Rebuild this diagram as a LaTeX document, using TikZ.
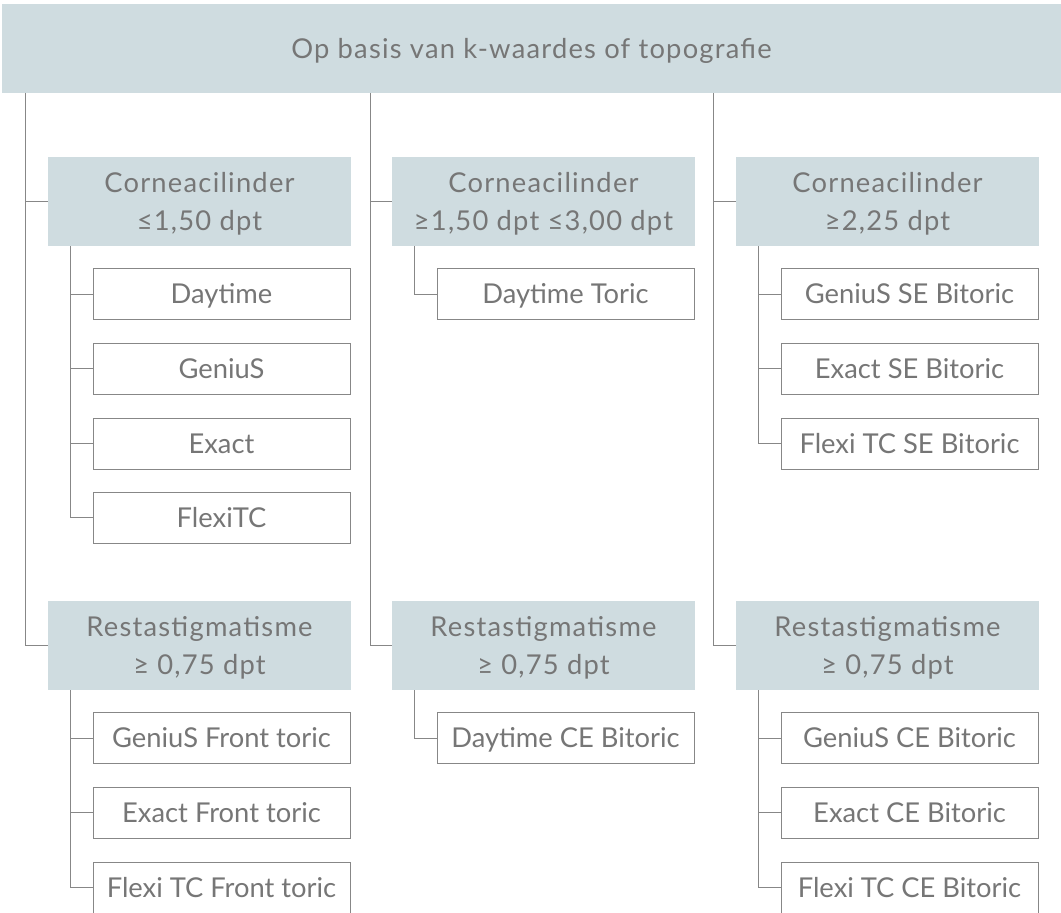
\documentclass[tikz,border=0pt]{standalone}
\usepackage{fontspec}
\setmainfont{Lato}
\usepackage{tikz}
\usetikzlibrary{positioning,calc}

\definecolor{boxgray}{RGB}{207,220,224}
\definecolor{txtgray}{RGB}{118,118,118}
\definecolor{linegray}{RGB}{135,135,135}
\newcommand{\nodp}[1]{\raisebox{0pt}[\height][0pt]{#1}}

\tikzset{
  headbox/.style={fill=boxgray,draw=none,inner sep=0pt,minimum width=794.25pt,minimum height=66.75pt,
    font=\fontsize{20.5}{28.5}\selectfont\addfontfeature{LetterSpace=4.5},text height=14.7pt,text depth=0pt},
  critbox/.style={fill=boxgray,draw=none,inner sep=0pt,align=center,minimum width=227.25pt,minimum height=66.75pt,
    font=\fontsize{20.5}{28.5}\selectfont\addfontfeature{LetterSpace=4.5}},
  lensbox/.style={fill=white,draw=linegray,line width=.6pt,inner sep=0pt,minimum width=192.75pt,minimum height=38.25pt,
    text height=14.7pt,text depth=0pt},
  tree/.style={draw=linegray,line width=.6pt}
}

\begin{document}
\begin{tikzpicture}[x=.75pt,y=-.75pt,font=\fontsize{20.5}{28.5}\selectfont,text=txtgray]
\useasboundingbox (0,0) rectangle (1061,913);
\node[headbox] (head) at (531.5,48.5) {Op basis van k-waardes of topografie};
% trunks
\coordinate (t1) at (25,93);
\coordinate (t2) at (370,93);
\coordinate (t3) at (713,93);
% criteria
\node[critbox] (c1) at (199.5,201.5) {Corneacilinder\\\nodp{≤1,50 dpt}};
\node[critbox] (c2) at (543.5,201.5) {Corneacilinder\\\nodp{≥1,50 dpt ≤3,00 dpt}};
\node[critbox] (c3) at (887.5,201.5) {Corneacilinder\\\nodp{≥2,25 dpt}};
\node[critbox] (r1) at (199.5,645.5) {Restastigmatisme\\\nodp{≥ 0,75 dpt}};
\node[critbox] (r2) at (543.5,645.5) {Restastigmatisme\\\nodp{≥ 0,75 dpt}};
\node[critbox] (r3) at (887.5,645.5) {Restastigmatisme\\\nodp{≥ 0,75 dpt}};
% lenses
\node[lensbox] (c1a) at (221.5,294) {Daytime};
\node[lensbox] (c1b) at (221.5,368.5) {GeniuS};
\node[lensbox] (c1c) at (221.5,443.5) {Exact};
\node[lensbox] (c1d) at (221.5,517.5) {FlexiTC};
\node[lensbox] (c2a) at (565.5,294) {Daytime Toric};
\node[lensbox] (c3a) at (909.5,294) {GeniuS SE Bitoric};
\node[lensbox] (c3b) at (909.5,368.5) {Exact SE Bitoric};
\node[lensbox] (c3c) at (909.5,443.5) {Flexi TC SE Bitoric};
\node[lensbox] (r1a) at (221.5,738) {GeniuS Front toric};
\node[lensbox] (r1b) at (221.5,812.5) {Exact Front toric};
\node[lensbox] (r1c) at (221.5,887.5) {Flexi TC Front toric};
\node[lensbox] (r2a) at (565.5,738) {Daytime CE Bitoric};
\node[lensbox] (r3a) at (909.5,738) {GeniuS CE Bitoric};
\node[lensbox] (r3b) at (909.5,812.5) {Exact CE Bitoric};
\node[lensbox] (r3c) at (909.5,887.5) {Flexi TC CE Bitoric};
% connectors
\draw[tree] (t1) |- (r1.west) (t1 |- c1.west) -- (c1.west);
\draw[tree] (t2) |- (r2.west) (t2 |- c2.west) -- (c2.west);
\draw[tree] (t3) |- (r3.west) (t3 |- c3.west) -- (c3.west);
\draw[tree] ($(c1.south west)+(23,0)$) coordinate (s1) |- (c1d.west)
  (s1 |- c1a.west) -- (c1a.west) (s1 |- c1b.west) -- (c1b.west) (s1 |- c1c.west) -- (c1c.west);
\draw[tree] ($(c2.south west)+(23,0)$) |- (c2a.west);
\draw[tree] ($(c3.south west)+(23,0)$) coordinate (s3) |- (c3c.west)
  (s3 |- c3a.west) -- (c3a.west) (s3 |- c3b.west) -- (c3b.west);
\draw[tree] ($(r1.south west)+(23,0)$) coordinate (u1) |- (r1c.west)
  (u1 |- r1a.west) -- (r1a.west) (u1 |- r1b.west) -- (r1b.west);
\draw[tree] ($(r2.south west)+(23,0)$) |- (r2a.west);
\draw[tree] ($(r3.south west)+(23,0)$) coordinate (u3) |- (r3c.west)
  (u3 |- r3a.west) -- (r3a.west) (u3 |- r3b.west) -- (r3b.west);
\end{tikzpicture}
\end{document}
